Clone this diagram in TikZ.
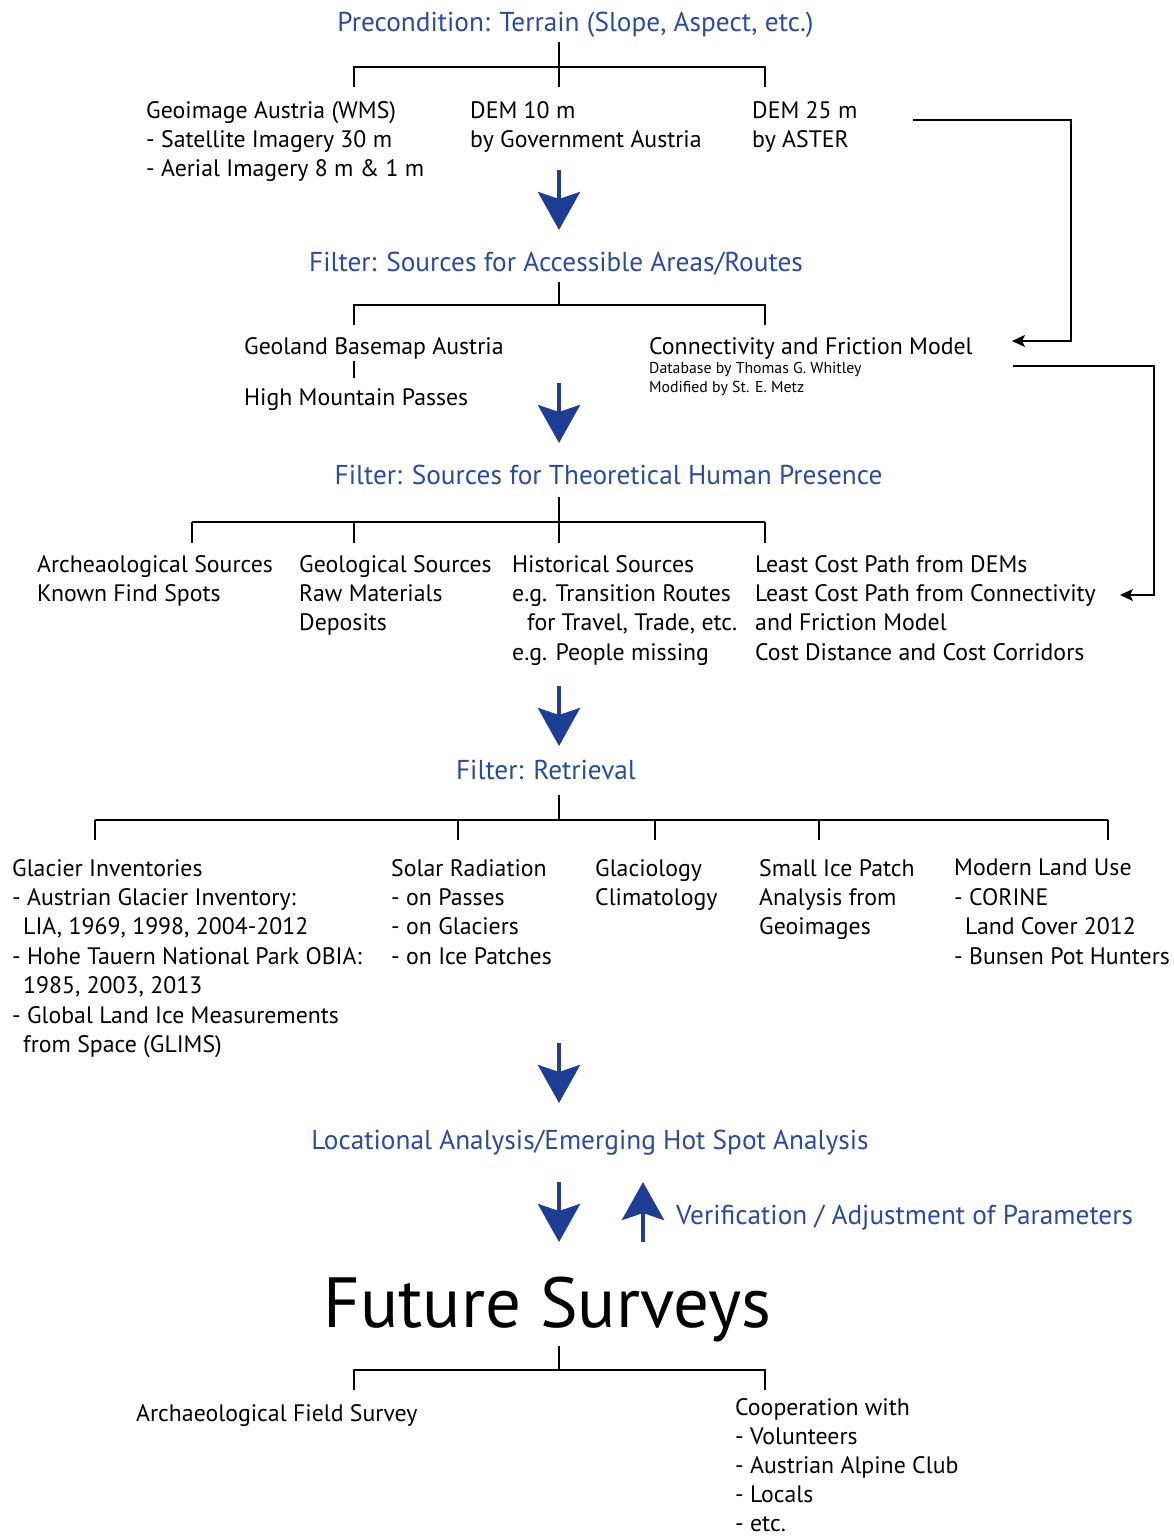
\documentclass[tikz,border=0pt]{standalone}
\usepackage{fontspec}
\setmainfont{PT Sans}
\usetikzlibrary{arrows.meta}
\definecolor{headblue}{RGB}{43,75,160}
\definecolor{arrowblue}{RGB}{30,62,150}

\tikzset{
	txt/.style={font=\fontsize{23.8}{29.4}\selectfont, align=left, anchor=north west, inner sep=0pt, execute at begin node=\strut},
	note/.style={font=\fontsize{15.8}{19}\selectfont, align=left, anchor=north west, inner sep=0pt, execute at begin node=\strut},
	head/.style={font=\fontsize{27.3}{30}\selectfont, text=headblue, anchor=base, inner sep=0pt},
	tree/.style={line width=2pt},
	flow/.style={line width=4.5pt, arrowblue, -{Stealth[length=38pt, width=42pt, inset=7pt]}},
	link/.style={line width=2pt, -{Stealth[length=13pt, width=12pt, inset=3pt]}}
}

\begin{document}
\begin{tikzpicture}[x=1pt, y=-1pt]
			\useasboundingbox (0,0) rectangle (1173,1539);

			% precondition
			\node (prec)[head] at (575.5,31) {Precondition: Terrain (Slope, Aspect, etc.)};
			\node (geoimg)[txt] at (146,101) {Geoimage Austria (WMS)\\- Satellite Imagery 30 m\\- Aerial Imagery 8 m \& 1 m};
			\node (dem10)[txt] at (470,101) {DEM 10 m\\by Government Austria};
			\node (dem25)[txt] at (752,101) {DEM 25 m\\by ASTER};

			\draw[tree] (559,42) -- (559,87);
			\draw[tree] (354,87) |- (765,67) -- (765,87);

			% accessible areas
			\node (access)[head] at (556,271) {Filter: Sources for Accessible Areas/Routes};
			\node (geoland)[txt] at (244,334) {Geoland Basemap Austria};
			\node (passes)[txt] at (244,385) {High Mountain Passes};
			\node (cfm)[txt] at (649,334) {Connectivity and Friction Model};
			\node (cfmnote)[note] at (649,362) {Database by Thomas G. Whitley\\Modified by St. E. Metz};

			\draw[tree] (559,282) -- (559,305);
			\draw[tree] (354,325) |- (765,305) -- (765,325);
			\draw[line width=1.5pt] (354,361) -- (354,378);

			% theoretical human presence
			\node (theory)[head] at (608.5,484) {Filter: Sources for Theoretical Human Presence};
			\node (arch)[txt] at (37,555) {Archeaological Sources\\Known Find Spots};
			\node (geol)[txt] at (299,555) {Geological Sources\\Raw Materials\\Deposits};
			\node (hist)[txt] at (512,555) {Historical Sources\\e.g. Transition Routes\\\hspace*{15pt}for Travel, Trade, etc.\\e.g. People missing};
			\node (lcp)[txt] at (755,555) {Least Cost Path from DEMs\\Least Cost Path from Connectivity\\and Friction Model\\Cost Distance and Cost Corridors};

			\draw[tree] (559,497) -- (559,543);
			\draw[tree] (192,522) -- (765,522);
			\foreach \x in {192,354,765} \draw[tree] (\x,522) -- (\x,543);

			% retrieval
			\node (retr)[head] at (546,779) {Filter: Retrieval};
			\node (glac)[txt] at (12,859) {Glacier Inventories\\- Austrian Glacier Inventory:\\\hspace*{11pt}LIA, 1969, 1998, 2004-2012\\- Hohe Tauern National Park OBIA:\\\hspace*{11pt}1985, 2003, 2013\\- Global Land Ice Measurements\\\hspace*{11pt}from Space (GLIMS)};
			\node (solar)[txt] at (391,859) {Solar Radiation\\- on Passes\\- on Glaciers\\- on Ice Patches};
			\node (glacio)[txt] at (595,859) {Glaciology\\Climatology};
			\node (icep)[txt] at (759,859) {Small Ice Patch\\Analysis from\\Geoimages};
			\node (landuse)[txt] at (954,859) {Modern Land Use\\- CORINE\\\hspace*{11pt}Land Cover 2012\\- Bunsen Pot Hunters};

			\draw[tree] (559,795) -- (559,820);
			\draw[tree] (95,820) -- (1108,820);
			\foreach \x in {95,458,655,819,1108} \draw[tree] (\x,820) -- (\x,840);

			% analysis and surveys
			\node (locat)[head] at (590,1149) {Locational Analysis/Emerging Hot Spot Analysis};
			\node (verif)[head, anchor=base west] at (676,1224) {Verification / Adjustment of Parameters};
			\node (future)[font=\fontsize{71}{80}\selectfont, anchor=base, inner sep=0pt] at (547.5,1327) {Future Surveys};
			\node (field)[txt] at (136,1401) {Archaeological Field Survey};
			\node (coop)[txt, font=\fontsize{23.8}{29}\selectfont] at (735,1398) {Cooperation with\\- Volunteers\\- Austrian Alpine Club\\- Locals\\- etc.};

			\draw[tree] (559,1346) -- (559,1370);
			\draw[tree] (354,1390) |- (765,1370) -- (765,1390);

			% blue flow arrows
			\coordinate (f1) at (559,170);
			\coordinate (f2) at (559,383);
			\coordinate (f3) at (559,686);
			\coordinate (f4) at (559,1043);
			\coordinate (f5) at (559,1182);
			\coordinate (up) at (643,1242);
			\foreach \f in {f1,f2,f3,f4,f5} \draw[flow] (\f) -- ++(0,60);
			\draw[flow] (up) -- ++(0,-60);

			% side connectors
			\coordinate (dem25out) at (913,120);
			\coordinate (cfmin) at (1012,341);
			\coordinate (cfmout) at (1013,366);
			\coordinate (lcpin) at (1120,595);
			\draw[link] (dem25out) -- ++(158,0) |- (cfmin);
			\draw[link] (cfmout) -- ++(141,0) |- (lcpin);
		\end{tikzpicture}
\end{document}
